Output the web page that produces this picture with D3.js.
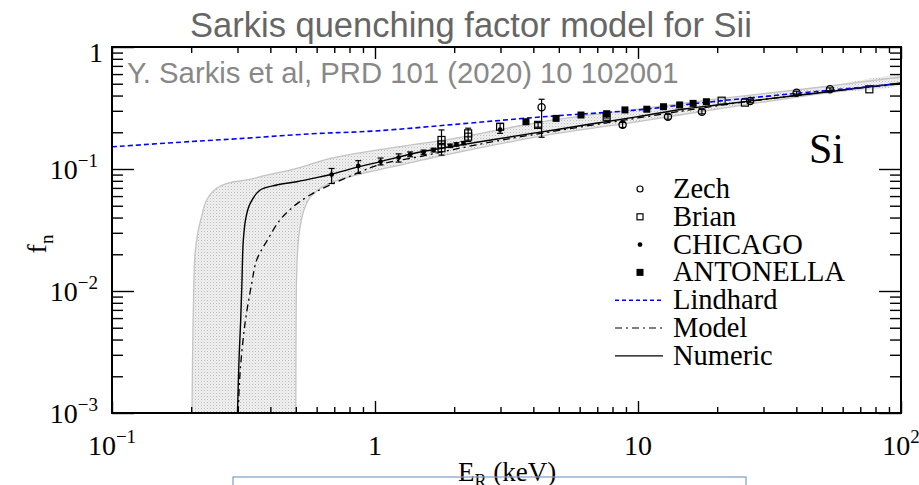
<!DOCTYPE html>
<html><head><meta charset="utf-8">
<script src="https://cdn.jsdelivr.net/npm/d3@7"></script>
<style>body{margin:0;background:#fff}svg{display:block}</style>
</head><body><svg id="c" width="919" height="485"></svg>
<script>
// ---- data (E in keV, f_n) ----
const xMajorTicks = [0.1, 1, 10, 100];
const xTickLabels = [["10","\u22121"],["1",""],["10",""],["10","2"]];
const yMajorTicks = [0.001, 0.01, 0.1, 1];
const yTickLabels = [["10","\u22123"],["10","\u22122"],["10","\u22121"],["1",""]];

const lindhard = [[0.1,0.152],[0.2,0.168],[0.3,0.177],[0.566,0.194],[1.0,0.205],[2.1,0.234],[4.27,0.267],[10,0.305],[15.8,0.341],[40.1,0.417],[100,0.502]];
const numeric = [[0.300,0.001],[0.3045,0.003],[0.3086,0.0058],[0.312,0.012],[0.3157,0.026],[0.323,0.040],[0.335,0.052],[0.365,0.067],[0.423,0.074],[0.504,0.0787],[0.60,0.085],[0.69,0.091],[0.85,0.103],[1.05,0.115],[1.4,0.134],[2.1,0.157],[3,0.178],[5,0.212],[7,0.238],[10,0.269],[15,0.31],[20,0.335],[30,0.372],[50,0.424],[70,0.462],[100,0.507]];
const model = [[0.302,0.001],[0.3067,0.0021],[0.3204,0.0054],[0.340,0.0116],[0.355,0.018],[0.390,0.0262],[0.435,0.0382],[0.489,0.0491],[0.566,0.0612],[0.674,0.074],[0.852,0.092],[1.045,0.109],[1.5,0.127],[2,0.145],[3,0.172],[5,0.207],[10,0.262],[20,0.33],[50,0.425],[100,0.50]];
const bandUpper = [[0.2014,0.001],[0.2035,0.006],[0.2068,0.02],[0.212,0.03],[0.219,0.0406],[0.229,0.0557],[0.25,0.0695],[0.281,0.0773],[0.325,0.0813],[0.376,0.0877],[0.504,0.101],[0.675,0.122],[1.0,0.142],[2.0,0.178],[4.35,0.245],[10,0.31],[20,0.375],[50,0.47],[100,0.568]];
const bandLower = [[0.5,0.001],[0.501,0.005],[0.503,0.012],[0.507,0.02],[0.515,0.03],[0.535,0.045],[0.565,0.058],[0.61,0.068],[0.68,0.077],[0.8,0.086],[1.0,0.097],[1.5,0.118],[2.0,0.135],[4.35,0.187],[10,0.245],[20,0.31],[50,0.415],[100,0.497]];

// [E, f, errLow, errHigh]
const zech = [[4.30,0.321,0.182,0.373],[8.74,0.230,0.219,0.241],[13.0,0.268,0.256,0.280],[17.5,0.295,0.283,0.307],[26.7,0.361,0.349,0.373],[40.1,0.422,0.410,0.434],[53.7,0.450,0.438,0.462]];
const brian = [[1.79,0.173,0.130,0.209],[1.79,0.159,0.159,0.159],[1.79,0.148,0.148,0.148],[2.26,0.196,0.168,0.216],[2.26,0.184,0.184,0.184],[2.99,0.222,0.222,0.222],[4.17,0.230,0.220,0.240],[7.6,0.268,0.262,0.274],[20.8,0.363,0.363,0.363],[25.5,0.350,0.350,0.350],[75.8,0.450,0.450,0.450]];
const chicago = [[0.684,0.090,0.076,0.101],[0.864,0.106,0.092,0.117],[1.05,0.115,0.108,0.123],[1.23,0.124,0.114,0.133],[1.36,0.132,0.126,0.138],[1.53,0.137,0.131,0.143],[1.67,0.143,0.138,0.148],[1.93,0.155,0.150,0.160],[2.04,0.159,0.154,0.164],[2.17,0.163,0.158,0.168],[2.99,0.210,0.196,0.236]];
const antonella = [[3.75,0.244],[4.88,0.260],[6.07,0.277],[7.6,0.284],[8.92,0.305],[10.8,0.309],[12.5,0.324],[14.4,0.335],[16.2,0.345],[18.2,0.356]];

const legendItems = ["Zech","Brian","CHICAGO","ANTONELLA","Lindhard","Model","Numeric"];

// ---- drawing ----
const svg = d3.select("#c");
const L = 112, R = 901, T = 47, B = 413;
const x = d3.scaleLog().domain([0.1,100]).range([L,R]);
const y = d3.scaleLog().domain([0.001,1]).range([B,T]);
const serif = "Liberation Serif";
const sans = "Liberation Sans";

svg.append("rect").attr("width",919).attr("height",485).attr("fill","#fff");

const defs = svg.append("defs");
const pat = defs.append("pattern").attr("id","dots").attr("width",3).attr("height",3).attr("patternUnits","userSpaceOnUse");
pat.append("rect").attr("width",3).attr("height",3).attr("fill","#f1f1f1");
pat.append("rect").attr("width",1).attr("height",1).attr("fill","#b8b8b8");
pat.append("rect").attr("x",1.5).attr("y",1.5).attr("width",1).attr("height",1).attr("fill","#d2d2d2");
defs.append("clipPath").attr("id","clip").append("rect").attr("x",L).attr("y",T).attr("width",R-L).attr("height",B-T);

const plot = svg.append("g").attr("clip-path","url(#clip)");
const cr = d3.line().x(d=>x(d[0])).y(d=>y(d[1])).curve(d3.curveCatmullRom);

// band
const bandPts = bandUpper.concat(bandLower.slice().reverse());
plot.append("path").attr("d", cr(bandPts)).attr("fill","url(#dots)").attr("stroke","none");
plot.append("path").attr("d", cr(bandUpper)).attr("fill","none").attr("stroke","#c4c4c4").attr("stroke-width",1.3);
plot.append("path").attr("d", cr(bandLower)).attr("fill","none").attr("stroke","#c4c4c4").attr("stroke-width",1.3);

// curves
plot.append("path").attr("d", cr(model))
  .attr("fill","none").attr("stroke","#000").attr("stroke-width",1.3).attr("stroke-dasharray","7,4,2,4");
plot.append("path").attr("d", cr(numeric))
  .attr("fill","none").attr("stroke","#000").attr("stroke-width",1.4);
plot.append("path").attr("d", cr(lindhard))
  .attr("fill","none").attr("stroke","#0000ff").attr("stroke-width",1.6).attr("stroke-dasharray","5,3");

// error bars
function errBars(data){
  const g = plot.append("g").attr("stroke","#000").attr("stroke-width",1.2);
  data.filter(d=>d[2]!==undefined && d[2]!==d[3]).forEach(d=>{
    g.append("line").attr("x1",x(d[0])).attr("x2",x(d[0])).attr("y1",y(d[2])).attr("y2",y(d[3]));
    g.append("line").attr("x1",x(d[0])-3).attr("x2",x(d[0])+3).attr("y1",y(d[2])).attr("y2",y(d[2]));
    g.append("line").attr("x1",x(d[0])-3).attr("x2",x(d[0])+3).attr("y1",y(d[3])).attr("y2",y(d[3]));
  });
}
errBars(zech); errBars(brian); errBars(chicago);

plot.append("g").selectAll("circle").data(zech).join("circle")
  .attr("cx",d=>x(d[0])).attr("cy",d=>y(d[1])).attr("r",3.6)
  .attr("fill","none").attr("stroke","#000").attr("stroke-width",1.3);
plot.append("g").selectAll("rect").data(brian).join("rect")
  .attr("x",d=>x(d[0])-3.5).attr("y",d=>y(d[1])-3.5).attr("width",7).attr("height",7)
  .attr("fill","none").attr("stroke","#000").attr("stroke-width",1.2);
plot.append("g").selectAll("circle").data(chicago).join("circle")
  .attr("cx",d=>x(d[0])).attr("cy",d=>y(d[1])).attr("r",2.4).attr("fill","#000");
plot.append("g").selectAll("rect").data(antonella).join("rect")
  .attr("x",d=>x(d[0])-3.5).attr("y",d=>y(d[1])-3.5).attr("width",7).attr("height",7).attr("fill","#000");

// axes ticks (inside)
const xMinor = x.ticks().filter(v=>!xMajorTicks.some(m=>Math.abs(m-v)<1e-9));
const yMinor = y.ticks().filter(v=>!yMajorTicks.some(m=>Math.abs(m-v)<1e-9));
function addAxis(axis, transform){
  const g = svg.append("g").attr("transform",transform).call(axis);
  g.select(".domain").remove();
  g.selectAll("line").attr("stroke","#000").attr("stroke-width",1.4);
  g.selectAll("text").remove();
}
addAxis(d3.axisBottom(x).tickValues(xMajorTicks).tickSizeInner(-12).tickFormat(""), `translate(0,${B})`);
addAxis(d3.axisBottom(x).tickValues(xMinor).tickSizeInner(-6).tickFormat(""), `translate(0,${B})`);
addAxis(d3.axisTop(x).tickValues(xMajorTicks).tickSizeInner(-12).tickFormat(""), `translate(0,${T})`);
addAxis(d3.axisTop(x).tickValues(xMinor).tickSizeInner(-6).tickFormat(""), `translate(0,${T})`);
addAxis(d3.axisLeft(y).tickValues(yMajorTicks).tickSizeInner(-22).tickFormat(""), `translate(${L},0)`);
addAxis(d3.axisLeft(y).tickValues(yMinor).tickSizeInner(-11).tickFormat(""), `translate(${L},0)`);
addAxis(d3.axisRight(y).tickValues(yMajorTicks).tickSizeInner(-22).tickFormat(""), `translate(${R},0)`);
addAxis(d3.axisRight(y).tickValues(yMinor).tickSizeInner(-11).tickFormat(""), `translate(${R},0)`);

svg.append("rect").attr("x",L).attr("y",T).attr("width",R-L).attr("height",B-T)
  .attr("fill","none").attr("stroke","#000").attr("stroke-width",2);

// tick labels
function powLabel(xp, yp, parts, anchor){
  const t = svg.append("text").attr("x",xp).attr("y",yp).attr("text-anchor",anchor)
    .attr("font-family",serif).attr("font-size",28).attr("fill","#000");
  t.append("tspan").text(parts[0]);
  if(parts[1]) t.append("tspan").attr("font-size",19).attr("dy",-12).text(parts[1]);
}
xMajorTicks.forEach((v,i)=>powLabel(x(v), 455, xTickLabels[i], "middle"));
yMajorTicks.forEach((v,i)=>powLabel(v===1?103:98, v===1?62:y(v)+10, yTickLabels[i], "end"));

// axis titles
const yt = svg.append("text").attr("transform",`translate(46,244) rotate(-90)`).attr("text-anchor","middle")
  .attr("font-family",serif).attr("font-size",28);
yt.append("tspan").text("f");
yt.append("tspan").attr("font-size",19).attr("dy",7).text("n");
const xt = svg.append("text").attr("x",458).attr("y",481).attr("font-family",serif).attr("font-size",27);
xt.append("tspan").text("E");
xt.append("tspan").attr("font-size",18).attr("dy",6).text("R");
xt.append("tspan").attr("dy",-6).text(" (keV)");

// title & annotation
svg.append("text").attr("x",471).attr("y",37).attr("text-anchor","middle").attr("font-family",sans)
  .attr("font-size",34.5).attr("fill","#666").text("Sarkis quenching factor model for Sii");
svg.append("text").attr("x",127).attr("y",83).attr("font-family",sans)
  .attr("font-size",29.3).attr("fill","#888").text("Y. Sarkis et al, PRD 101 (2020) 10 102001");
svg.append("text").attr("x",809).attr("y",163).attr("font-family",serif).attr("font-size",42).text("Si");

// legend
const lg = svg.append("g");
const lx = 640, ty0 = 198, dy = 27.8;
legendItems.forEach((name,i)=>{
  lg.append("text").attr("x",673).attr("y",ty0+i*dy).attr("font-family",serif).attr("font-size",28.5).text(name);
});
const cy = i => ty0 + i*dy - 9;
lg.append("circle").attr("cx",lx).attr("cy",cy(0)).attr("r",3).attr("fill","none").attr("stroke","#000").attr("stroke-width",1.2);
lg.append("rect").attr("x",lx-3).attr("y",cy(1)-3).attr("width",6).attr("height",6).attr("fill","none").attr("stroke","#000").attr("stroke-width",1.2);
lg.append("circle").attr("cx",lx).attr("cy",cy(2)).attr("r",2.4).attr("fill","#000");
lg.append("rect").attr("x",lx-3.5).attr("y",cy(3)-3.5).attr("width",7).attr("height",7).attr("fill","#000");
lg.append("line").attr("x1",615).attr("x2",663).attr("y1",cy(4)).attr("y2",cy(4)).attr("stroke","#0000ff").attr("stroke-width",1.4).attr("stroke-dasharray","4,3");
lg.append("line").attr("x1",615).attr("x2",663).attr("y1",cy(5)).attr("y2",cy(5)).attr("stroke","#000").attr("stroke-width",1.2).attr("stroke-dasharray","7,4,2,4");
lg.append("line").attr("x1",615).attr("x2",663).attr("y1",cy(6)).attr("y2",cy(6)).attr("stroke","#000").attr("stroke-width",1.2);

// bottom box
svg.append("rect").attr("x",233).attr("y",477).attr("width",513).attr("height",20)
  .attr("fill","none").attr("stroke","#7f9cc6").attr("stroke-width",1.2);
</script></body></html>
